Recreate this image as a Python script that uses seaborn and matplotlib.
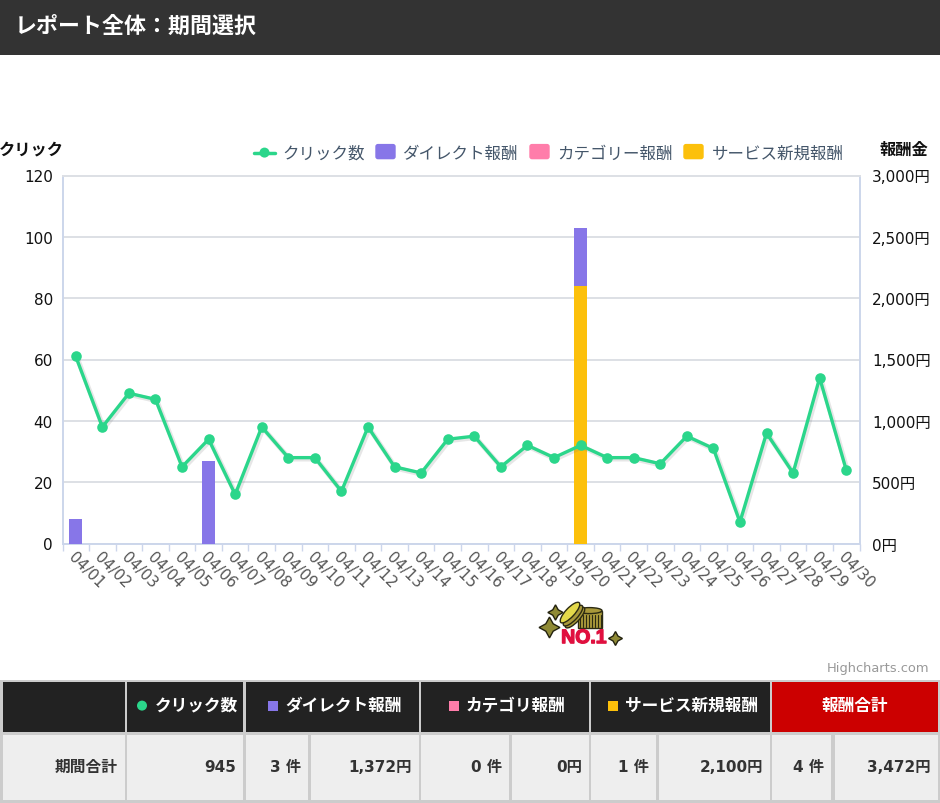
import matplotlib
matplotlib.use("Agg")
import matplotlib.pyplot as plt
import matplotlib.patheffects as pe
from matplotlib.patches import Rectangle, Ellipse, FancyBboxPatch, Circle
from matplotlib.lines import Line2D
import pandas as pd
import seaborn as sns

sns.set_theme(style="white")
FONT = ['DejaVu Sans', 'Noto Sans CJK JP']
plt.rcParams['font.family'] = FONT

days = [f"04/{d:02d}" for d in range(1, 31)]
clicks = [61, 38, 49, 47, 25, 34, 16, 38, 28, 28, 17, 38, 25, 23, 34,
          35, 25, 32, 28, 32, 28, 28, 26, 35, 31, 7, 36, 23, 54, 24]
direct = [200, 0, 0, 0, 0, 676, 0, 0, 0, 0, 0, 0, 0, 0, 0,
          0, 0, 0, 0, 470, 0, 0, 0, 0, 0, 0, 0, 0, 0, 0]
category = [0] * 30
service = [0, 0, 0, 0, 0, 0, 0, 0, 0, 0, 0, 0, 0, 0, 0,
           0, 0, 0, 0, 2100, 0, 0, 0, 0, 0, 0, 0, 0, 0, 0]
left_ticks = [0, 20, 40, 60, 80, 100, 120]
right_ticks = [0, 500, 1000, 1500, 2000, 2500, 3000]
legend_labels = ["クリック数", "ダイレクト報酬", "カテゴリー報酬", "サービス新規報酬"]

GREEN, PURPLE, PINK, YELLOW = "#2bd68b", "#8776e8", "#ff7daa", "#fcc00b"
W, H = 940, 804
df = pd.DataFrame(dict(day=days, clicks=clicks, direct=direct, category=category, service=service))
df["top"] = df.direct + df.category + df.service
df["mid"] = df.category + df.service

fig = plt.figure(figsize=(W / 100, H / 100), dpi=100, facecolor="white")
L, R, T, B = 62.5, 859.5, 176.5, 544.5
ax2 = fig.add_axes([L / W, 1 - B / H, (R - L) / W, (B - T) / H])
ax = ax2.twinx()

# right axis (reward bars) – stacked by overdrawing
sns.barplot(data=df, x="day", y="top", color=PURPLE, width=0.5, saturation=1, ax=ax2, zorder=3)
sns.barplot(data=df, x="day", y="mid", color=PINK, width=0.5, saturation=1, ax=ax2, zorder=3)
sns.barplot(data=df, x="day", y="service", color=YELLOW, width=0.5, saturation=1, ax=ax2, zorder=3)
for bar in ax2.patches:
    bar.set_edgecolor("none")
ax2.set_ylim(0, 3000)
ax2.set_xlim(-0.5, 29.5)
ax2.yaxis.tick_right()
ax2.yaxis.set_label_position("right")
ax2.set_yticks(right_ticks)
ax2.set_yticklabels([f"{v:,}円" for v in right_ticks], fontsize=11, color="#111111")
ax2.grid(axis="y", color="#dde0e5", lw=1.4, zorder=0)
ax2.set_axisbelow(True)
ax2.set_xlabel("")
ax2.set_ylabel("")

# left axis (click line)
sns.lineplot(data=df, x="day", y="clicks", color=GREEN, lw=2.4, sort=False, ax=ax, zorder=5,
             path_effects=[pe.SimpleLineShadow(offset=(1, -1), shadow_color="#777777", alpha=0.18, linewidth=3.6),
                           pe.Normal()])
sns.scatterplot(data=df, x="day", y="clicks", color=GREEN, s=58, linewidth=0, ax=ax, zorder=6)
ax.set_ylim(0, 120)
ax.set_xlim(-0.5, 29.5)
ax.yaxis.tick_left()
ax.yaxis.set_label_position("left")
ax.set_yticks(left_ticks)
ax.set_yticklabels([str(v) for v in left_ticks], fontsize=11, color="#111111")
ax.set_xlabel("")
ax.set_ylabel("")
ax.set_zorder(ax2.get_zorder() + 1)
ax.patch.set_visible(False)
ax.tick_params(axis="y", length=0, pad=7)
ax2.tick_params(axis="y", length=0, pad=9)
for a in (ax, ax2):
    for s in a.spines.values():
        s.set_visible(False)

for side in ("left", "right", "bottom", "top"):
    ax2.spines[side].set_visible(True)
    ax2.spines[side].set_color("#ccd6eb" if side != "top" else "#dde0e5")
    ax2.spines[side].set_linewidth(1.4)

ax2.set_xticks([i - 0.5 for i in range(31)], minor=True)
ax2.tick_params(axis="x", which="minor", length=5, width=1, color="#ccd6eb", bottom=True)
ax2.set_xticks(range(30))
ax2.set_xticklabels(days, rotation=-45, ha="left", va="top", rotation_mode="anchor",
                    fontsize=11, color="#555555")
ax2.tick_params(axis="x", which="major", length=0, pad=4)
ax.tick_params(axis="x", length=0, labelbottom=False)

# page layer in pixel coordinates
pg = fig.add_axes([0, 0, 1, 1], facecolor="none")
pg.set_xlim(0, W)
pg.set_ylim(H - 0.6, -0.6)
pg.axis("off")
pg.set_zorder(10)


def box(x0, y0, x1, y1, c, z=1):
    pg.add_patch(Rectangle((x0, y0), x1 - x0, y1 - y0, fc=c, ec="none", zorder=z))


def txt(x, y, s, size, color="#111111", ha="left", weight="normal"):
    pg.text(x, y, s, fontsize=size, color=color, ha=ha, va="center", fontweight=weight, family=FONT, zorder=4)


# header
box(0, -1, W, 55, "#333333")
txt(15, 26, "レポート全体：期間選択", 15.8, "white", weight="bold")

# axis titles
txt(-1, 149, "クリック", 11.7, "#111111", weight="bold")
txt(928, 150, "報酬金", 11.7, "#111111", ha="right", weight="bold")

# legend
leg_x = [282, 402, 557, 712]
swatch_x = [375, 529, 683]
for x, s in zip(leg_x, legend_labels):
    txt(x, 153, s, 11.9, "#44566a")
pg.add_line(Line2D([254, 275], [153, 153], color=GREEN, lw=2.5, zorder=3))
pg.add_patch(Circle((264.5, 153), 5, fc=GREEN, ec="none", zorder=3))
for x, c in zip(swatch_x, [PURPLE, PINK, YELLOW]):
    pg.add_patch(FancyBboxPatch((x + 1, 145), 19, 14, boxstyle="round,pad=0,rounding_size=2", fc=c, ec=c, lw=1, zorder=3))

txt(929, 668, "Highcharts.com", 9.4, "#999999", ha="right")

# NO.1 badge
DARK, OLIVE, GOLD = "#2b2a12", "#a9993a", "#e4d94a"
pg.add_patch(Rectangle((577.5, 611), 24.5, 17, fc=OLIVE, ec=DARK, lw=1, zorder=2.6))
for x in range(580, 602, 3):
    pg.add_line(Line2D([x, x], [615, 627], color=DARK, lw=0.8, zorder=2.7))
pg.add_patch(Ellipse((589.5, 611), 25, 6, fc=OLIVE, ec=DARK, lw=1, zorder=2.8))
for dx, dy in [(5, 5), (3, 3), (0, 0)]:
    pg.add_patch(Ellipse((570 + dx, 613 + dy), 27, 9, angle=-47,
                         fc=GOLD if (dx, dy) == (0, 0) else OLIVE, ec=DARK, lw=1, zorder=3 - dx * 0.01))
for x, y, ms in [(555, 612, 11), (549, 627, 15), (615, 638, 10)]:
    pg.plot([x], [y], marker=(4, 1, 0), ms=ms, mfc="#8f8a35", mec="#22210e", mew=1, zorder=3, ls="none")
pg.text(584, 639, "NO.1", fontsize=14, color="#e0103f", ha="center", va="center",
        fontweight="black", family=["Liberation Sans"], zorder=4,
        path_effects=[pe.withStroke(linewidth=1, foreground="#e0103f")])

# table
box(0, 680, W, H, "#cccccc", 0.5)
hdr = [(3, 125, "#222222"), (127, 243, "#222222"), (246, 419, "#222222"),
       (421, 589, "#222222"), (591, 770, "#222222"), (772, 938, "#cc0000")]
for x0, x1, c in hdr:
    box(x0, 682, x1, 732, c)
cells = [(3, 125), (127, 243), (246, 308), (311, 419), (421, 509), (512, 589),
         (591, 656), (659, 770), (772, 831), (835, 938)]
for x0, x1 in cells:
    box(x0, 735, x1, 800, "#eeeeee")
box(0, 801, W, H, "#cccccc", 0.5)

row_labels = ["期間合計", "945", "3 件", "1,372円", "0 件", "0円", "1 件", "2,100円", "4 件", "3,472円"]
for (x0, x1), s in zip(cells, row_labels):
    txt(x1 - 7, 767, s, 11.3 if s == "期間合計" else 11, "#333333", ha="right", weight="bold")

pg.add_patch(Circle((142, 706), 5, fc=GREEN, ec="none", zorder=3))
txt(155, 705, "クリック数", 12, "white", weight="bold")
box(268, 701, 278, 711, PURPLE, 3)
txt(285, 705, "ダイレクト報酬", 12, "white", weight="bold")
box(449, 701, 459, 711, PINK, 3)
txt(466, 705, "カテゴリ報酬", 12, "white", weight="bold")
box(608, 701, 618, 711, YELLOW, 3)
txt(625, 705, "サービス新規報酬", 12, "white", weight="bold")
txt(855, 705, "報酬合計", 12, "white", ha="center", weight="bold")

fig.savefig("out.png", dpi=100)
